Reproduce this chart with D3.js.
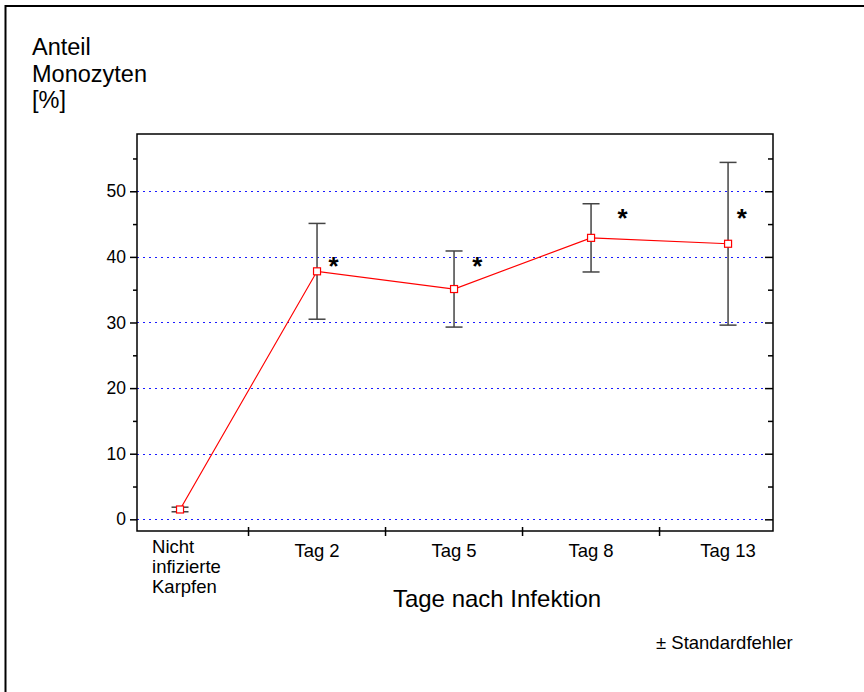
<!DOCTYPE html>
<html>
<head>
<meta charset="utf-8">
<script src="https://cdn.jsdelivr.net/npm/d3@7"></script>
<style>
  body { margin: 0; background: #fff; }
  svg { display: block; font-family: "Liberation Sans", Arial, sans-serif; }
</style>
</head>
<body>
<div id="chart"></div>
<script>
// data
let categories = ["Nicht infizierte Karpfen", "Tag 2", "Tag 5", "Tag 8", "Tag 13"];
let means = [1.5, 37.8, 35.1, 42.9, 42.0];
let stdErr = [0.35, 7.3, 5.8, 5.2, 12.4];
// significance stars: position in category units / value units
let starX = [1.12, 2.17, 3.23, 4.1];
let starY = [39.5, 39.5, 46.9, 46.9];
let yTicks = [0, 10, 20, 30, 40, 50];
let yMinor = [5, 15, 25, 35, 45, 55];

let width = 864;
let height = 692;
let plot = { left: 137, right: 773, top: 134, bottom: 531 };

let svg = d3.select("#chart").append("svg")
  .attr("width", width)
  .attr("height", height);

// outer frame (runs off the right and bottom of the picture)
svg.append("rect")
  .attr("x", 5.5).attr("y", 6)
  .attr("width", 900).attr("height", 800)
  .attr("fill", "none")
  .attr("stroke", "#000")
  .attr("stroke-width", 2);

let xScale = d3.scaleLinear()
  .domain([-0.314, 4.328])
  .range([plot.left, plot.right]);

let yScale = d3.scaleLinear()
  .domain([-1.78, 58.73])
  .range([plot.bottom, plot.top]);

// grid
svg.append("g")
  .selectAll("line")
  .data(yTicks)
  .join("line")
  .attr("x1", plot.left).attr("x2", plot.right - 8)
  .attr("y1", (d) => Math.round(yScale(d)) + 0.5)
  .attr("y2", (d) => Math.round(yScale(d)) + 0.5)
  .attr("stroke", "#1a1aff")
  .attr("stroke-width", 1)
  .attr("stroke-dasharray", "2,4");

// plot box
svg.append("rect")
  .attr("x", plot.left).attr("y", plot.top)
  .attr("width", plot.right - plot.left)
  .attr("height", plot.bottom - plot.top)
  .attr("fill", "none")
  .attr("stroke", "#000")
  .attr("stroke-width", 1.5);

// left axis
let yAxis = d3.axisLeft(yScale)
  .tickValues(yTicks)
  .tickSize(7)
  .tickPadding(4)
  .tickFormat(d3.format("d"));

svg.append("g")
  .attr("transform", `translate(${plot.left},0)`)
  .call(yAxis)
  .call((g) => g.select(".domain").remove())
  .call((g) => g.selectAll("line").attr("stroke", "#000").attr("stroke-width", 1.5))
  .call((g) => g.selectAll("text")
    .attr("font-size", 17.5)
    .attr("font-family", "Liberation Sans, Arial, sans-serif")
    .attr("fill", "#000"));

svg.append("g")
  .attr("transform", `translate(${plot.left},0)`)
  .call(d3.axisLeft(yScale).tickValues(yMinor).tickSize(4).tickFormat(""))
  .call((g) => g.select(".domain").remove())
  .call((g) => g.selectAll("line").attr("stroke", "#000").attr("stroke-width", 1.5));

// right axis, ticks inward
svg.append("g")
  .attr("transform", `translate(${plot.right},0)`)
  .call(d3.axisLeft(yScale).tickValues(yTicks).tickSize(8).tickFormat(""))
  .call((g) => g.select(".domain").remove())
  .call((g) => g.selectAll("line").attr("stroke", "#000").attr("stroke-width", 1.5));

svg.append("g")
  .attr("transform", `translate(${plot.right},0)`)
  .call(d3.axisLeft(yScale).tickValues(yMinor).tickSize(5).tickFormat(""))
  .call((g) => g.select(".domain").remove())
  .call((g) => g.selectAll("line").attr("stroke", "#000").attr("stroke-width", 1.5));

// bottom axis: ticks between categories, crossing the axis line
let bounds = d3.range(categories.length - 1).map((i) => i + 0.5);
svg.append("g")
  .selectAll("line")
  .data(bounds)
  .join("line")
  .attr("x1", (d) => xScale(d)).attr("x2", (d) => xScale(d))
  .attr("y1", plot.bottom - 4).attr("y2", plot.bottom + 5)
  .attr("stroke", "#000")
  .attr("stroke-width", 1.5);

// category labels
let labels = svg.append("g")
  .attr("font-size", 18.5)
  .attr("fill", "#000");

categories.forEach((c, i) => {
  if (i === 0) {
    let t = labels.append("text")
      .attr("x", xScale(0) - 28)
      .attr("y", 553);
    ["Nicht", "infizierte", "Karpfen"].forEach((w, j) => {
      t.append("tspan").attr("x", xScale(0) - 28).attr("dy", j === 0 ? 0 : 20).text(w);
    });
  } else {
    labels.append("text")
      .attr("x", xScale(i))
      .attr("y", 557)
      .attr("text-anchor", "middle")
      .text(c);
  }
});

// error bars
let bars = svg.append("g")
  .attr("stroke", "#444")
  .attr("stroke-width", 1.5);

means.forEach((m, i) => {
  let x = xScale(i);
  let lo = yScale(m - stdErr[i]);
  let hi = yScale(m + stdErr[i]);
  bars.append("line").attr("x1", x).attr("x2", x).attr("y1", lo).attr("y2", hi);
  bars.append("line").attr("x1", x - 8.5).attr("x2", x + 8.5).attr("y1", lo).attr("y2", lo);
  bars.append("line").attr("x1", x - 8.5).attr("x2", x + 8.5).attr("y1", hi).attr("y2", hi);
});

// mean line
let line = d3.line()
  .x((d, i) => xScale(i))
  .y((d) => yScale(d));

svg.append("path")
  .attr("d", line(means))
  .attr("fill", "none")
  .attr("stroke", "#ff0000")
  .attr("stroke-width", 1.2);

svg.append("g")
  .selectAll("rect")
  .data(means)
  .join("rect")
  .attr("x", (d, i) => xScale(i) - 3.5)
  .attr("y", (d) => yScale(d) - 3.5)
  .attr("width", 7)
  .attr("height", 7)
  .attr("fill", "#fff")
  .attr("stroke", "#ff0000")
  .attr("stroke-width", 1.2);

// stars
svg.append("g")
  .selectAll("text")
  .data(starX)
  .join("text")
  .attr("x", (d) => xScale(d))
  .attr("y", (d, i) => yScale(starY[i]) + 15)
  .attr("text-anchor", "middle")
  .attr("font-size", 26)
  .attr("font-weight", "bold")
  .text("*");

// titles
let yTitle = svg.append("text")
  .attr("font-size", 23.5)
  .attr("fill", "#000");
["Anteil", "Monozyten", "[%]"].forEach((w, j) => {
  yTitle.append("tspan").attr("x", 32).attr("y", 55 + j * 26.5).text(w);
});

svg.append("text")
  .attr("x", 497)
  .attr("y", 607)
  .attr("text-anchor", "middle")
  .attr("font-size", 24)
  .text("Tage nach Infektion");

svg.append("text")
  .attr("x", 656)
  .attr("y", 649)
  .attr("font-size", 18.5)
  .text("± Standardfehler");
</script>
</body>
</html>
